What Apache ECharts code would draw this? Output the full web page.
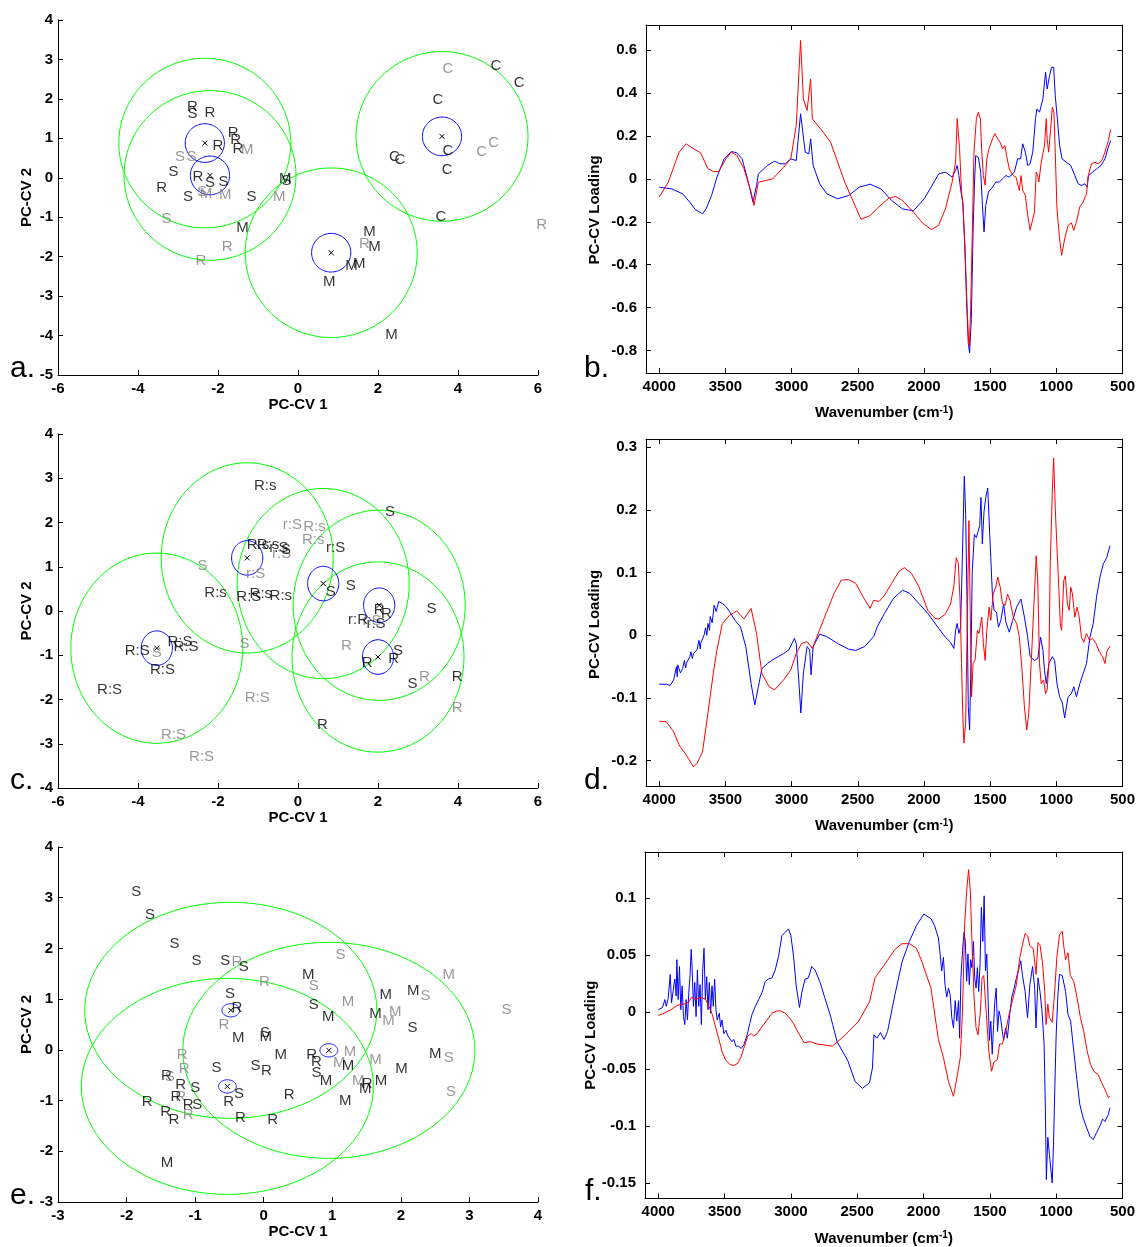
<!DOCTYPE html>
<html><head><meta charset="utf-8">
<script src="https://cdn.jsdelivr.net/npm/echarts@6/dist/echarts.min.js"></script>
<style>html,body{margin:0;padding:0;background:#fff}#c{width:1138px;height:1247px}</style>
</head><body><div id="c"></div><script>
// ---------- score plots (label, PC-CV1, PC-CV2) ----------
const aBlack = [['R',-2.64,1.79],['S',-2.64,1.62],['R',-2.2,1.65],['R',-1.62,1.14],['R',-1.56,0.97],['R',-1.5,0.74],['R',-2.0,0.80],['S',-3.11,0.15],['R',-2.5,0.03],['S',-2.2,-0.13],['S',-1.86,-0.10],['R',-3.41,-0.25],['S',-2.75,-0.48],['S',-1.16,-0.48],['M',-0.32,-0.02],['S',-0.29,-0.08],['M',-1.39,-1.27],['M',1.79,-1.37],['M',1.91,-1.75],['M',1.34,-2.23],['M',1.53,-2.19],['M',0.78,-2.64],['M',2.34,-3.99],['C',4.95,2.84],['C',5.53,2.41],['C',3.5,1.97],['C',3.75,0.68],['C',3.73,0.21],['C',2.41,0.52],['C',2.55,0.45],['C',3.57,-1.0]];
const aGray = [['M',-1.27,0.72],['S',-2.95,0.52],['S',-2.66,0.52],['S',-2.4,-0.35],['M',-2.3,-0.42],['M',-1.82,-0.44],['M',-0.47,-0.48],['S',-3.29,-1.03],['R',-1.77,-1.75],['R',-2.43,-2.11],['R',1.66,-1.67],['R',6.09,-1.2],['C',3.75,2.76],['C',4.59,0.66],['C',4.89,0.89]];
const aCenters = [[-2.33,0.88],[-2.2,0.06],[0.83,-1.9],[3.6,1.05]];
const aGreenR = 2.15, aBlueR = 0.49;

const cBlack = [['R:s',-0.82,2.82],['S',2.3,2.25],['r:S',0.94,1.42],['R:s',-1.0,1.5],['R:s',-0.75,1.5],['r:S',-0.48,1.42],['S',-0.3,1.38],['R:s',-2.06,0.41],['R:S',-1.23,0.33],['R:s',-0.93,0.39],['R:s',-0.43,0.34],['S',0.82,0.43],['S',1.32,0.57],['S',3.34,0.05],['R',2.21,-0.06],['R',2.03,0.02],['r:R',1.5,-0.21],['r:S',1.95,-0.29],['S',2.5,-0.89],['R',2.39,-1.08],['R',1.73,-1.18],['S',2.86,-1.64],['R',3.98,-1.49],['R',0.61,-2.58],['R:S',-4.02,-0.89],['R:S',-2.95,-0.70],['R:S',-2.8,-0.80],['R:S',-3.39,-1.33],['R:S',-4.71,-1.78]];
const cGray = [['r:S',-0.14,1.95],['R:s',0.41,1.91],['R:s',0.38,1.6],['r:S',-0.41,1.3],['S',-2.39,1.02],['r:S',-1.06,0.83],['r:S',1.85,-0.22],['R',1.21,-0.79],['R',3.16,-1.49],['R',3.98,-2.19],['S',-1.34,-0.75],['S',-3.53,-0.94],['R:S',-1.02,-1.96],['R:S',-3.11,-2.79],['R:S',-2.41,-3.3]];
const cCenters = [[-3.53,-0.84],[-1.27,1.2],[0.63,0.62],[2.03,0.13],[2.0,-1.04]];
const cGreenR = 2.15, cBlueR = 0.39;

const eBlack = [['S',-1.86,3.11],['S',-1.66,2.66],['S',-1.30,2.09],['S',-0.98,1.75],['S',-0.56,1.75],['S',-0.29,1.63],['S',-0.49,1.11],['S',0.02,0.33],['S',0.73,0.89],['S',2.17,0.43],['S',0.77,-0.46],['S',-0.12,-0.31],['S',-0.69,-0.36],['S',-1.0,-0.75],['S',-0.97,-1.09],['S',-0.36,-0.87],
['M',0.65,1.47],['M',-0.37,0.24],['M',0.03,0.25],['M',0.94,0.66],['M',1.78,1.09],['M',2.18,1.17],['M',1.63,0.70],['M',2.5,-0.08],['M',2.01,-0.38],['M',0.25,-0.1],['M',1.23,-0.31],['M',0.91,-0.62],['M',1.48,-0.76],['M',1.71,-0.62],['M',1.19,-1.01],['M',-1.41,-2.22],
['R',-0.39,0.83],['R',0.70,-0.1],['R',0.77,-0.24],['R',1.51,-0.67],['R',0.37,-0.89],['R',0.04,-0.41],['R',-1.42,-0.51],['R',-1.21,-0.70],['R',-1.10,-1.09],['R',-1.70,-1.03],['R',-1.43,-1.23],['R',-1.31,-1.38],['R',-0.51,-1.03],['R',-0.34,-1.34],['R',0.13,-1.38],['R',-1.28,-0.92]];
const eGray = [['R',-0.39,1.74],['R',0.01,1.34],['R',-0.58,0.49],['R',-1.19,-0.1],['R',-1.16,-0.38],['R',-1.21,-0.93],['R',-1.10,-1.28],
['S',1.12,1.88],['S',0.73,1.26],['S',2.36,1.06],['S',3.54,0.78],['S',2.70,-0.16],['S',2.73,-0.82],['S',-1.37,-0.54],
['M',2.70,1.48],['M',1.23,0.94],['M',1.92,0.74],['M',1.82,0.57],['M',1.26,-0.03],['M',1.63,-0.2],['M',1.1,-0.26],['M',1.38,-0.62]];
const eCenters = [[-0.48,0.78],[-0.53,-0.72],[0.95,-0.01]];
const eGreenR = 2.13, eBlueR = 0.13;

// ---------- loadings (wavenumber, loading) ----------
const bRed = [[4000,-0.085],[3932,-0.016],[3850,0.124],[3796,0.163],[3741,0.140],[3687,0.121],[3632,0.047],[3592,0.034],[3551,0.034],[3496,0.093],[3455,0.124],[3414,0.109],[3360,0.047],[3306,-0.062],[3284,-0.124],[3251,-0.016],[3142,0],[3060,0.054],[3006,0.093],[2965,0.248],[2932,0.644],[2911,0.372],[2883,0.318],[2856,0.465],[2843,0.279],[2761,0.217],[2706,0.171],[2598,-0.016],[2475,-0.189],[2407,-0.171],[2352,-0.137],[2271,-0.093],[2216,-0.082],[2162,-0.101],[2080,-0.155],[2012,-0.205],[1944,-0.236],[1889,-0.217],[1838,-0.14],[1787,-0.015],[1761,0.077],[1749,0.28],[1741,0.28],[1731,0.14],[1716,-0.06],[1706,-0.124],[1690,-0.31],[1678,-0.53],[1665,-0.73],[1657,-0.78],[1647,-0.6],[1635,-0.26],[1622,0.124],[1604,0.28],[1589,0.31],[1574,0.28],[1563,0.124],[1551,0.015],[1538,-0.03],[1525,0.093],[1508,0.14],[1482,0.186],[1464,0.21],[1444,0.186],[1424,0.17],[1406,0.14],[1388,0.155],[1376,0.108],[1355,0.046],[1325,0.015],[1305,0.008],[1279,-0.054],[1267,0.015],[1254,-0.054],[1234,-0.077],[1216,-0.17],[1198,-0.24],[1183,-0.248],[1165,-0.155],[1152,0.031],[1140,0.015],[1132,-0.015],[1114,0.077],[1089,0.155],[1076,0.28],[1069,0.186],[1058,0.124],[1043,0.23],[1030,0.333],[1018,0.31],[1008,0.124],[995,-0.14],[975,-0.28],[960,-0.356],[937,-0.28],[911,-0.217],[886,-0.205],[868,-0.24],[848,-0.2],[822,-0.13],[797,-0.108],[772,-0.07],[759,0.015],[734,0.07],[708,0.077],[683,0.07],[657,0.085],[632,0.124],[607,0.178],[589,0.23]];
const bBlue = [[4000,-0.039],[3905,-0.047],[3823,-0.070],[3769,-0.109],[3728,-0.143],[3673,-0.163],[3646,-0.140],[3605,-0.078],[3564,0.008],[3510,0.093],[3455,0.127],[3414,0.121],[3374,0.093],[3333,0],[3292,-0.109],[3265,-0.031],[3251,0.023],[3183,0.062],[3129,0.082],[3088,0.070],[3047,0.070],[3006,0.093],[2965,0.085],[2932,0.303],[2897,0.124],[2870,0.116],[2856,0.186],[2837,0.062],[2788,-0.023],[2734,-0.070],[2652,-0.093],[2570,-0.078],[2489,-0.039],[2407,-0.025],[2325,-0.047],[2244,-0.101],[2162,-0.140],[2080,-0.149],[1998,-0.093],[1917,-0.008],[1888,0.023],[1838,0.031],[1787,0.008],[1761,0.039],[1749,0.062],[1736,0.015],[1718,-0.07],[1706,-0.108],[1690,-0.34],[1678,-0.57],[1665,-0.767],[1655,-0.81],[1642,-0.65],[1629,-0.248],[1619,-0.03],[1609,0.108],[1589,0.1],[1571,0.031],[1558,-0.124],[1546,-0.248],[1533,-0.124],[1513,-0.062],[1482,-0.039],[1457,-0.015],[1431,-0.015],[1406,0],[1381,0.015],[1355,0.008],[1317,0.031],[1292,0.093],[1270,0.093],[1254,0.163],[1234,0.124],[1216,0.062],[1198,0.07],[1178,0.124],[1157,0.28],[1147,0.325],[1127,0.31],[1102,0.37],[1081,0.496],[1069,0.418],[1051,0.48],[1036,0.519],[1020,0.519],[1008,0.387],[992,0.28],[975,0.155],[957,0.093],[924,0.077],[891,0.062],[860,0.015],[835,-0.023],[810,-0.031],[785,-0.023],[767,-0.039],[757,0.015],[726,0.031],[696,0.046],[663,0.062],[632,0.093],[607,0.147],[589,0.178]];

const dRed = [[4000,-0.137],[3946,-0.138],[3891,-0.154],[3850,-0.175],[3796,-0.191],[3741,-0.210],[3714,-0.204],[3673,-0.186],[3632,-0.124],[3592,-0.061],[3564,-0.023],[3523,0.019],[3469,0.032],[3414,0.039],[3360,0.026],[3306,0.043],[3265,0.003],[3224,-0.061],[3169,-0.082],[3129,-0.087],[3060,-0.071],[3006,-0.055],[2965,-0.029],[2924,-0.013],[2883,-0.010],[2843,-0.021],[2788,0.009],[2734,0.038],[2679,0.067],[2625,0.088],[2570,0.089],[2516,0.083],[2461,0.062],[2407,0.043],[2380,0.056],[2339,0.054],[2298,0.064],[2244,0.083],[2189,0.102],[2148,0.108],[2094,0.099],[2039,0.078],[1971,0.040],[1917,0.027],[1888,0.026],[1838,0.034],[1799,0.050],[1774,0.079],[1756,0.124],[1741,0.116],[1728,0.061],[1716,-0.045],[1706,-0.130],[1698,-0.172],[1685,-0.140],[1670,0.061],[1660,0.183],[1650,0.029],[1640,-0.098],[1629,-0.045],[1614,-0.040],[1596,0.008],[1584,0.003],[1563,0.029],[1551,-0.013],[1538,-0.040],[1525,0.008],[1508,0.045],[1495,0.024],[1477,0.066],[1457,0.077],[1442,0.093],[1424,0.077],[1406,0.050],[1386,0.048],[1368,0.066],[1350,0.056],[1325,0.029],[1300,0.019],[1279,-0.003],[1259,-0.056],[1241,-0.114],[1223,-0.151],[1208,-0.124],[1190,-0.045],[1170,0.045],[1152,0.127],[1140,0.087],[1127,-0.045],[1114,-0.077],[1096,-0.071],[1081,-0.093],[1069,-0.087],[1056,-0.045],[1046,0.114],[1030,0.230],[1020,0.283],[1008,0.204],[995,0.140],[980,0.071],[970,0.019],[960,0.008],[944,0.087],[932,0.095],[916,0.050],[903,0.040],[891,0.077],[878,0.066],[860,0.029],[843,0.045],[827,0.029],[810,-0.003],[792,-0.011],[772,0.003],[749,-0.008],[726,-0.005],[700,-0.013],[675,-0.026],[650,-0.034],[632,-0.045],[619,-0.026],[594,-0.017]];
const dBlue = [[4000,-0.078],[3946,-0.078],[3918,-0.080],[3891,-0.071],[3870,-0.050],[3864,-0.066],[3860,-0.047],[3850,-0.050],[3840,-0.060],[3823,-0.053],[3810,-0.040],[3800,-0.052],[3796,-0.045],[3769,-0.034],[3760,-0.026],[3750,-0.037],[3741,-0.029],[3714,-0.023],[3700,-0.008],[3690,-0.022],[3687,-0.013],[3660,0.001],[3650,0.012],[3640,0.000],[3632,0.019],[3620,0.008],[3615,0.030],[3605,0.030],[3600,0.020],[3585,0.048],[3578,0.046],[3570,0.038],[3551,0.054],[3523,0.051],[3496,0.046],[3469,0.038],[3428,0.024],[3387,0.014],[3346,-0.018],[3306,-0.077],[3278,-0.111],[3251,-0.082],[3224,-0.053],[3183,-0.045],[3142,-0.039],[3101,-0.034],[3060,-0.029],[3020,-0.023],[2979,-0.005],[2965,-0.013],[2946,-0.071],[2930,-0.124],[2911,-0.061],[2883,-0.018],[2864,-0.023],[2853,-0.063],[2837,-0.018],[2788,0.002],[2734,-0.002],[2652,-0.013],[2570,-0.022],[2516,-0.024],[2448,-0.018],[2380,-0.002],[2352,0.014],[2298,0.035],[2230,0.059],[2162,0.072],[2107,0.067],[2039,0.051],[1971,0.035],[1888,0.011],[1838,-0.003],[1799,-0.011],[1774,-0.021],[1761,0.008],[1749,0.019],[1736,0.003],[1723,0.013],[1711,0.114],[1695,0.254],[1685,0.193],[1675,0.061],[1665,-0.114],[1655,-0.151],[1645,-0.045],[1635,0.103],[1619,0.161],[1604,0.156],[1589,0.156],[1579,0.175],[1569,0.220],[1559,0.146],[1546,0.198],[1533,0.220],[1518,0.235],[1508,0.235],[1503,0.161],[1495,0.124],[1482,0.061],[1470,0.040],[1452,0.037],[1437,0.013],[1419,0.024],[1398,0.050],[1381,0.021],[1355,0.005],[1330,0.024],[1300,0.045],[1267,0.058],[1241,0.029],[1216,-0.003],[1198,-0.034],[1165,-0.040],[1140,-0.037],[1119,-0.003],[1101,-0.024],[1089,-0.056],[1076,-0.077],[1056,-0.045],[1030,-0.034],[1013,-0.040],[995,-0.077],[975,-0.098],[954,-0.108],[937,-0.132],[911,-0.098],[886,-0.093],[868,-0.082],[848,-0.098],[822,-0.077],[797,-0.061],[772,-0.045],[746,-0.003],[721,0.019],[696,0.061],[670,0.093],[645,0.114],[619,0.124],[594,0.143]];

const fRed = [[4000,-0.003],[3955,-0.001],[3905,0.002],[3855,0.006],[3805,0.007],[3768,0.009],[3750,0.013],[3718,0.011],[3680,0.013],[3643,0.011],[3618,0.005],[3593,-0.002],[3568,-0.013],[3543,-0.024],[3518,-0.035],[3493,-0.042],[3460,-0.046],[3430,-0.047],[3400,-0.045],[3375,-0.039],[3350,-0.030],[3325,-0.021],[3300,-0.019],[3280,-0.021],[3255,-0.019],[3218,-0.013],[3180,-0.007],[3143,-0.001],[3105,0.001],[3080,0.001],[3043,-0.001],[3005,-0.006],[2980,-0.010],[2955,-0.016],[2930,-0.021],[2900,-0.027],[2855,-0.026],[2805,-0.028],[2743,-0.029],[2688,-0.030],[2598,-0.021],[2489,-0.008],[2407,0.009],[2366,0.030],[2298,0.041],[2216,0.055],[2162,0.060],[2107,0.060],[2053,0.056],[2012,0.044],[1944,0.021],[1888,-0.024],[1850,-0.040],[1812,-0.061],[1774,-0.074],[1749,-0.058],[1723,-0.040],[1706,0.001],[1690,0.077],[1673,0.109],[1660,0.125],[1647,0.106],[1635,0.062],[1619,0.013],[1604,-0.014],[1589,-0.020],[1571,0.001],[1559,0.030],[1546,0.032],[1528,0.001],[1508,-0.034],[1487,-0.052],[1470,-0.044],[1444,-0.042],[1426,-0.028],[1406,-0.028],[1381,-0.017],[1355,-0.002],[1330,0.010],[1300,0.024],[1274,0.048],[1254,0.059],[1234,0.069],[1216,0.067],[1198,0.058],[1173,0.056],[1152,0.033],[1137,0.061],[1122,0.059],[1102,0.042],[1086,0.018],[1076,-0.011],[1063,0.007],[1051,-0.005],[1030,-0.009],[1013,0.015],[995,0.048],[975,0.068],[954,0.071],[944,0.059],[929,0.046],[911,0.052],[893,0.032],[868,0.027],[843,0.013],[817,-0.005],[792,-0.017],[767,-0.034],[741,-0.046],[716,-0.052],[683,-0.055],[658,-0.062],[632,-0.068],[607,-0.075],[594,-0.074]];
const fBlue = [[4000,0.002],[3985,0.001],[3968,0.004],[3950,0.011],[3940,0.005],[3925,0.012],[3910,0.033],[3900,0.008],[3885,0.021],[3875,0.029],[3865,0.014],[3860,0.046],[3850,0.011],[3840,0.040],[3830,0.002],[3820,0.023],[3810,-0.004],[3800,-0.011],[3790,0.011],[3780,-0.007],[3770,0.017],[3760,0.033],[3752,0.055],[3745,0.040],[3735,0.005],[3725,0.026],[3715,-0.004],[3705,0.037],[3695,0.005],[3685,0.024],[3675,-0.011],[3665,0.036],[3655,0.056],[3645,0.011],[3635,0.031],[3625,0.002],[3615,0.026],[3605,-0.001],[3595,0.023],[3585,0.005],[3575,0.029],[3565,0.002],[3555,-0.007],[3540,-0.001],[3530,-0.013],[3520,-0.007],[3505,-0.019],[3490,-0.016],[3475,-0.021],[3460,-0.020],[3445,-0.026],[3430,-0.024],[3415,-0.030],[3395,-0.030],[3375,-0.032],[3355,-0.029],[3330,-0.020],[3310,-0.010],[3293,-0.002],[3268,0.005],[3243,0.011],[3218,0.017],[3193,0.027],[3168,0.029],[3143,0.030],[3118,0.037],[3093,0.049],[3068,0.067],[3043,0.070],[3018,0.073],[3000,0.067],[2980,0.049],[2960,0.023],[2935,0.004],[2918,0.017],[2893,0.029],[2868,0.030],[2843,0.040],[2818,0.037],[2780,0.026],[2743,0.012],[2705,-0.002],[2685,-0.011],[2652,-0.026],[2570,-0.043],[2516,-0.061],[2461,-0.067],[2407,-0.062],[2385,-0.049],[2374,-0.020],[2352,-0.023],[2325,-0.018],[2298,-0.024],[2271,-0.017],[2216,0.015],[2162,0.044],[2107,0.062],[2053,0.076],[1998,0.086],[1944,0.082],[1917,0.076],[1888,0.065],[1875,0.051],[1863,0.036],[1850,0.048],[1838,0.024],[1825,0.013],[1812,0.021],[1799,0.015],[1787,-0.005],[1774,-0.014],[1761,0.010],[1749,-0.008],[1736,0.010],[1728,-0.023],[1718,0.030],[1706,0.054],[1695,0.070],[1685,0.062],[1675,0.027],[1665,0.051],[1655,0.024],[1645,0.046],[1635,0.039],[1624,0.062],[1614,0.030],[1604,0.021],[1594,0.039],[1584,0.018],[1574,0.042],[1564,0.092],[1553,0.062],[1543,0.102],[1533,0.036],[1523,0.051],[1513,0.010],[1503,-0.025],[1493,-0.008],[1482,-0.037],[1472,-0.011],[1462,0.010],[1452,0.021],[1442,-0.017],[1431,0.001],[1419,-0.005],[1406,-0.017],[1396,-0.025],[1381,-0.014],[1368,-0.023],[1350,-0.002],[1335,0.013],[1317,0.021],[1300,0.030],[1279,0.039],[1267,0.045],[1254,0.032],[1234,0.018],[1216,-0.005],[1198,0.024],[1178,0.040],[1162,0.021],[1152,-0.014],[1137,0.030],[1122,0.018],[1107,0.001],[1091,-0.028],[1081,-0.087],[1074,-0.147],[1063,-0.110],[1051,-0.125],[1041,-0.125],[1030,-0.150],[1020,-0.116],[1010,-0.066],[1000,-0.020],[987,0.015],[975,0.033],[954,0.032],[944,0.033],[929,0.018],[911,-0.002],[891,-0.008],[873,-0.028],[848,-0.055],[822,-0.081],[797,-0.093],[772,-0.101],[746,-0.109],[721,-0.112],[696,-0.106],[670,-0.100],[650,-0.094],[632,-0.096],[607,-0.090],[594,-0.084]];

// ---------- build ----------
const FONT = '"Liberation Sans", Arial, Helvetica, sans-serif';
const tickLbl = {color:'#000', fontSize:15, fontWeight:'bold', fontFamily:FONT};
const titleTxt = {color:'#000', fontSize:15, fontWeight:'bold', fontFamily:FONT};

function scoreX(g, min, max, step){
  return {type:'value', gridIndex:g, min, max, interval:step, position:'bottom',
    axisLine:{show:true, onZero:false, lineStyle:{color:'#000', width:1}},
    axisTick:{show:true, inside:true, length:5, lineStyle:{color:'#000'}},
    axisLabel:Object.assign({margin:6}, tickLbl), splitLine:{show:false},
    name:'PC-CV 1', nameLocation:'middle', nameGap:21, nameTextStyle:titleTxt};
}
function scoreY(g, min, max, step){
  return {type:'value', gridIndex:g, min, max, interval:step, position:'left',
    axisLine:{show:true, onZero:false, lineStyle:{color:'#000', width:1}},
    axisTick:{show:true, inside:true, length:5, lineStyle:{color:'#000'}},
    axisLabel:Object.assign({margin:5}, tickLbl), splitLine:{show:false},
    name:'PC-CV 2', nameLocation:'middle', nameGap:24, nameTextStyle:titleTxt};
}
function fmtStep(step){
  return v => { const k = Math.round(v/step); return Math.abs(v-k*step) < step*1e-3 ? String(Number((k*step).toFixed(3))) : ''; };
}
function specX(g, pos){
  const main = pos === 'bottom';
  return {type:'value', gridIndex:g, inverse:true, min:500, max:4100, interval:500, position:pos,
    axisLine:{show:true, onZero:false, lineStyle:{color:'#000', width:1}},
    axisTick:{show:true, inside:true, length:5, lineStyle:{color:'#000'}},
    axisLabel:Object.assign({show:main, margin:6, formatter:v => v>4000 ? '' : String(v)}, tickLbl),
    splitLine:{show:false},
    name: main ? 'Wavenumber (cm{sup|-1})' : '', nameLocation:'middle', nameGap:32,
    nameTextStyle:Object.assign({rich:{sup:{fontSize:10, fontWeight:'bold', fontFamily:FONT, color:'#000', verticalAlign:'top', padding:[0,0,6,0]}}}, titleTxt)};
}
function specY(g, pos, min, max, step, padShift){
  const main = pos === 'left';
  return {type:'value', gridIndex:g, min, max, minInterval:step, maxInterval:step, splitNumber:8, position:pos,
    axisLine:{show:true, onZero:false, lineStyle:{color:'#000', width:1}},
    axisTick:{show:true, inside:true, length:5, lineStyle:{color:'#000'}},
    axisLabel:Object.assign({show:main, margin:9, formatter:fmtStep(step)}, tickLbl),
    splitLine:{show:false},
    name: main ? 'PC-CV Loading' : '', nameLocation:'middle', nameGap:44,
    nameTextStyle:Object.assign({padding:[0,padShift,0,0]}, titleTxt)};
}

function ring(color){
  return function(params, api){
    const cx = api.value(0), cy = api.value(1), r = api.value(2);
    const pts = [];
    for (let k = 0; k <= 96; k++){ const t = k/96*Math.PI*2; pts.push(api.coord([cx + r*Math.cos(t), cy + r*Math.sin(t)])); }
    return {type:'polyline', shape:{points:pts}, style:{stroke:color, lineWidth:1, fill:null}};
  };
}
function cross(params, api){
  const p = api.coord([api.value(0), api.value(1)]); const s = 2.5;
  return {type:'group', children:[
    {type:'line', shape:{x1:p[0]-s, y1:p[1]-s, x2:p[0]+s, y2:p[1]+s}, style:{stroke:'#000', lineWidth:1}},
    {type:'line', shape:{x1:p[0]-s, y1:p[1]+s, x2:p[0]+s, y2:p[1]-s}, style:{stroke:'#000', lineWidth:1}}]};
}
function scoreSeries(g, black, gray, centers, gR, bR){
  const lab = (arr, color) => ({type:'scatter', xAxisIndex:g, yAxisIndex:g, symbolSize:1, clip:false, silent:true,
    itemStyle:{color:'rgba(0,0,0,0)'}, z:3,
    label:{show:true, position:'inside', formatter:p => p.value[2], color, fontSize:15, fontFamily:FONT},
    data: arr.map(d => [d[1], d[2], d[0]])});
  return [
    {type:'custom', xAxisIndex:g, yAxisIndex:g, renderItem:ring('#00ff00'), data:centers.map(c => [c[0], c[1], gR]), silent:true, z:2},
    {type:'custom', xAxisIndex:g, yAxisIndex:g, renderItem:ring('#0000ff'), data:centers.map(c => [c[0], c[1], bR]), silent:true, z:2},
    {type:'custom', xAxisIndex:g, yAxisIndex:g, renderItem:cross, data:centers.map(c => [c[0], c[1]]), silent:true, z:2},
    lab(gray, '#808080'), lab(black, '#000000')
  ];
}
function specSeries(ax, red, blue){
  const ln = (d, c) => ({type:'line', xAxisIndex:ax, yAxisIndex:ax, data:d, showSymbol:false, symbol:'none',
    lineStyle:{color:c, width:1}, itemStyle:{color:c}, silent:true, clip:true});
  return [ln(blue, '#0000ff'), ln(red, '#ff0000')];
}

const option = {
  animation:false,
  textStyle:{fontFamily:FONT},
  grid:[
    {left:58, top:20, width:480, height:355},
    {left:58, top:434, width:480, height:354},
    {left:58, top:847, width:480, height:355},
    {left:646, top:25, width:481, height:348},
    {left:646, top:439, width:481, height:347},
    {left:645, top:852, width:482, height:348}
  ],
  xAxis:[
    scoreX(0,-6,6,2), scoreX(1,-6,6,2), scoreX(2,-3,4,1),
    specX(3,'bottom'), specX(3,'top'), specX(4,'bottom'), specX(4,'top'), specX(5,'bottom'), specX(5,'top')
  ],
  yAxis:[
    scoreY(0,-5,4,1), scoreY(1,-4,4,1), scoreY(2,-3,4,1),
    specY(3,'left',-0.904,0.716,0.2,22), specY(3,'right',-0.904,0.716,0.2,0),
    specY(4,'left',-0.2404,0.3133,0.1,24), specY(4,'right',-0.2404,0.3133,0.1,0),
    specY(5,'left',-0.1637,0.1405,0.05,20), specY(5,'right',-0.1637,0.1405,0.05,0)
  ],
  series:[].concat(
    scoreSeries(0, aBlack, aGray, aCenters, aGreenR, aBlueR),
    scoreSeries(1, cBlack, cGray, cCenters, cGreenR, cBlueR),
    scoreSeries(2, eBlack, eGray, eCenters, eGreenR, eBlueR),
    specSeries(3, bRed, bBlue),
    specSeries(5, dRed, dBlue),
    specSeries(7, fRed, fBlue)
  ),
  graphic:[
    {type:'text', x:10, y:369, style:{text:'a.', font:'30px "Liberation Sans", Arial', fill:'#000', textVerticalAlign:'middle'}},
    {type:'text', x:584, y:369, style:{text:'b.', font:'30px "Liberation Sans", Arial', fill:'#000', textVerticalAlign:'middle'}},
    {type:'text', x:10, y:781, style:{text:'c.', font:'30px "Liberation Sans", Arial', fill:'#000', textVerticalAlign:'middle'}},
    {type:'text', x:584, y:781, style:{text:'d.', font:'30px "Liberation Sans", Arial', fill:'#000', textVerticalAlign:'middle'}},
    {type:'text', x:10, y:1196, style:{text:'e.', font:'30px "Liberation Sans", Arial', fill:'#000', textVerticalAlign:'middle'}},
    {type:'text', x:585, y:1192, style:{text:'f.', font:'30px "Liberation Sans", Arial', fill:'#000', textVerticalAlign:'middle'}}
  ]
};
const chart = echarts.init(document.getElementById('c'), null, {renderer:'canvas'});
chart.setOption(option);
</script></body></html>
